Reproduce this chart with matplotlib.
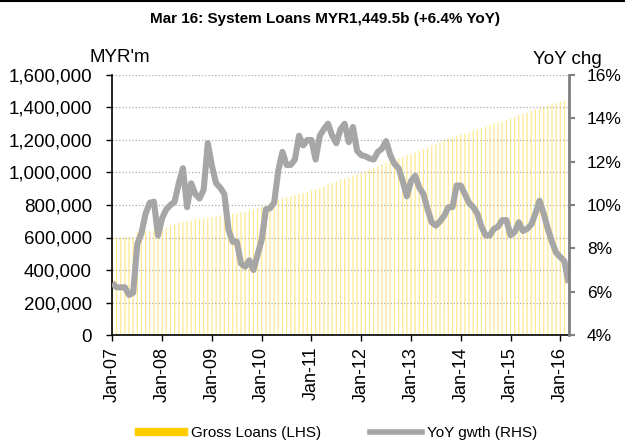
import matplotlib
matplotlib.use('Agg')
import matplotlib.pyplot as plt
from matplotlib.lines import Line2D
from matplotlib.ticker import FuncFormatter

plt.rcParams['font.family'] = ['Liberation Sans', 'DejaVu Sans']

# month labels, Jan-07 .. Mar-16
years = list(range(7, 17))
tick_labels = ['Jan-%02d' % y for y in years]
tick_pos = [12 * i for i in range(len(years))]

# gross loans, MYR m (LHS)
loans = [600000, 601000, 603000, 604000, 605000, 606000, 632000, 635000, 638000, 640000,
         642000, 645000, 648000, 660000, 672000, 685000, 692000, 697000, 701000, 705000,
         710000, 714000, 718000, 722000, 726000, 730000, 736000, 740000, 743000, 746000,
         749000, 753000, 758000, 765000, 772000, 780000, 788000, 798000, 812000, 826000,
         836000, 842000, 848000, 855000, 862000, 868000, 873000, 880000, 888000, 896000,
         905000, 915000, 928000, 938000, 946000, 955000, 962000, 970000, 982000, 990000,
         998000, 1010000, 1020000, 1028000, 1040000, 1050000, 1060000, 1070000, 1078000, 1088000,
         1096000, 1105000, 1112000, 1122000, 1132000, 1142000, 1152000, 1165000, 1175000, 1186000,
         1198000, 1206000, 1216000, 1226000, 1234000, 1240000, 1248000, 1256000, 1264000, 1274000,
         1282000, 1290000, 1300000, 1308000, 1316000, 1322000, 1332000, 1342000, 1352000, 1360000,
         1368000, 1378000, 1388000, 1396000, 1405000, 1414000, 1422000, 1430000, 1436000, 1442000,
         1449500]

# YoY growth, % (RHS)
yoy = [6.4, 6.2, 6.2, 6.2, 5.85, 5.95, 8.2, 8.7, 9.6, 10.1,
       10.15, 8.6, 9.4, 9.8, 10.0, 10.15, 11.0, 11.7, 9.9, 11.0,
       10.5, 10.3, 10.7, 12.85, 11.8, 11.0, 10.8, 10.5, 8.85, 8.3,
       8.3, 7.3, 7.15, 7.45, 7.0, 7.7, 8.4, 9.8, 9.85, 10.1,
       11.6, 12.45, 11.85, 11.85, 12.1, 13.2, 12.75, 13.0, 13.0, 12.1,
       13.2, 13.5, 13.75, 13.2, 12.85, 13.5, 13.75, 12.9, 13.6, 12.5,
       12.3, 12.25, 12.15, 12.1, 12.45, 12.6, 12.95, 12.3, 11.9, 11.7,
       11.1, 10.4, 11.1, 11.35, 10.8, 10.5, 9.8, 9.2, 9.05, 9.25,
       9.5, 9.9, 9.9, 10.9, 10.9, 10.5, 10.1, 9.9, 9.6, 9.0,
       8.6, 8.6, 8.9, 9.0, 9.3, 9.3, 8.6, 8.75, 9.2, 8.8,
       8.9, 9.1, 9.6, 10.2, 9.6, 8.9, 8.3, 7.8, 7.6, 7.4,
       6.4]

x = list(range(len(loans)))

fig = plt.figure(figsize=(6.25, 4.46), dpi=100)
ax = fig.add_axes([112/625, 1-335/446, (569-112)/625, (335-75)/446])

ax.set_axisbelow(True)
ax.yaxis.grid(True, linestyle=':', color='#aaaaaa', linewidth=0.9)
ax.bar(x, loans, width=0.3, color='#FFD21F', alpha=0.5, linewidth=0, snap=False)
ax.set_ylim(0, 1600000)
ax.set_yticks(range(0, 1600001, 200000))
ax.yaxis.set_major_formatter(FuncFormatter(lambda v, p: '{:,.0f}'.format(v)))
ax.set_xlim(-0.1, 110.1)
ax.set_xticks(tick_pos)
ax.set_xticklabels(tick_labels, rotation=90)
ax.tick_params(axis='both', direction='out', length=4.5, width=1, labelsize=13.5, color='black')
ax.tick_params(axis='y', pad=10)
ax.tick_params(axis='x', pad=4, labelsize=13)
ax.spines['top'].set_visible(False)
ax.spines['right'].set_visible(False)
ax.spines['left'].set_linewidth(1.2)
ax.spines['bottom'].set_linewidth(1.2)

ax2 = ax.twinx()
ax2.plot(x, yoy, color='#a6a6a6', linewidth=4.4, solid_joinstyle='round', solid_capstyle='butt')
ax2.set_ylim(4, 16)
ax2.set_yticks(range(4, 17, 2))
ax2.yaxis.set_major_formatter(FuncFormatter(lambda v, p: '%d%%' % v))
ax2.tick_params(axis='y', direction='out', length=4, width=1.5, color='#808080', labelsize=12.5, pad=9)
for s in ['top', 'left', 'bottom']:
    ax2.spines[s].set_visible(False)
ax2.spines['right'].set_color('#808080')
ax2.spines['right'].set_linewidth(2)

fig.text(325/625, 1-19/446, 'Mar 16: System Loans MYR1,449.5b (+6.4% YoY)',
         ha='center', va='center', fontsize=11, fontweight='bold')
fig.text(120/625, 1-57/446, "MYR'm", ha='center', va='center', fontsize=13.5)
fig.text(567/625, 1-60/446, 'YoY chg', ha='center', va='center', fontsize=13.5)

# top border line
fig.add_artist(Line2D([0, 1], [0.998, 0.998], color='black', linewidth=1.5))

handles = [plt.Rectangle((0, 0), 1, 1, color='#FFCC00'),
           Line2D([], [], color='#a6a6a6', linewidth=4)]
fig.legend(handles, ['Gross Loans (LHS)', 'YoY gwth (RHS)'], loc='center',
           bbox_to_anchor=(336/625, 1-433/446), ncol=2, frameon=False, fontsize=11,
           handlelength=3.4, handleheight=0.4, handletextpad=0.3, columnspacing=3.2)

fig.savefig('out.png', dpi=100)
